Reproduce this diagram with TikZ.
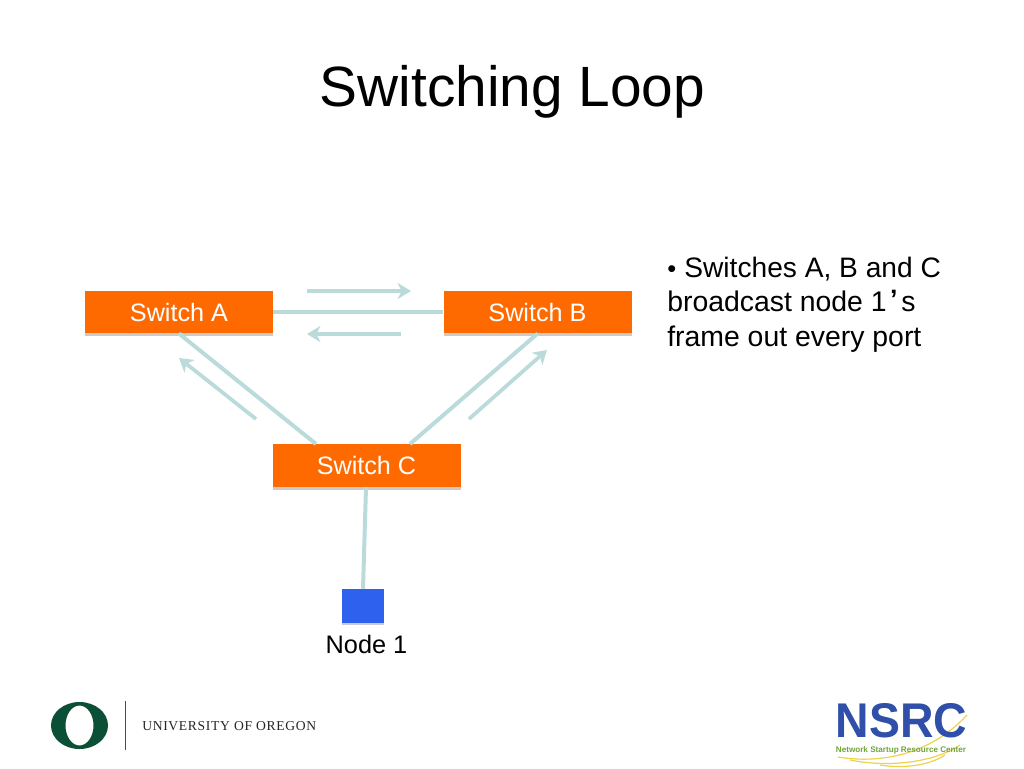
\documentclass[tikz,border=0pt]{standalone}
\usepackage{fontspec}
\setmainfont{Liberation Sans}
\newfontfamily\serifrm{Liberation Serif}
\usetikzlibrary{arrows.meta,shadows}
\definecolor{swor}{HTML}{FF6A00}
\definecolor{linkc}{HTML}{BBDBDB}
\definecolor{oregon}{HTML}{0B4F36}
\definecolor{nsrcb}{HTML}{2F4FA8}
\definecolor{nsrcg}{HTML}{6FA53A}
\definecolor{nsrcy}{HTML}{EBD350}
\definecolor{hostc}{HTML}{2E62EE}
\tikzset{
  x=0.75pt,y=-0.75pt,
  swbox/.style={fill=swor,draw=none,minimum width=141pt,minimum height=32pt,inner sep=0pt,text=white,font=\fontsize{18.9}{23}\selectfont,
    drop shadow={shadow xshift=0pt,shadow yshift=-2pt,fill=black!40,opacity=.5}},
  hostbox/.style={fill=hostc,draw=none,minimum width=31.5pt,minimum height=25.5pt,inner sep=0pt,
    drop shadow={shadow xshift=0pt,shadow yshift=-1.5pt,fill=black!40,opacity=.5}},
  link/.style={draw=linkc,line width=3pt},
  flow/.style={draw=linkc,line width=2.8pt,-{Stealth[length=10pt,width=12pt,inset=3pt]}},
  txt/.style={inner sep=0pt,font=\fontsize{21.3}{25.6}\selectfont},
  swoosh/.style={draw=nsrcy,line width=.9pt}
}
\begin{document}
\begin{tikzpicture}
\useasboundingbox (0,0) rectangle (1024,768);
\fill[white] (0,0) rectangle (1024,768);

\node[inner sep=0pt,anchor=base,font=\fontsize{42.6}{50}\selectfont] (title) at (512.5,106) {Switching Loop};

\coordinate (a1) at (307,291);
\coordinate (a2) at (411,291);
\coordinate (b1) at (401,334);
\coordinate (b2) at (307,334);
\coordinate (c1) at (256,419);
\coordinate (c2) at (179,358);
\coordinate (d1) at (469,419);
\coordinate (d2) at (547,350);
\coordinate (ct1) at (316,444);
\coordinate (ct2) at (410,444);
\coordinate (cb) at (366,487);

\draw[flow] (a1) -- (a2);
\draw[flow] (b1) -- (b2);
\draw[flow] (c1) -- (c2);
\draw[flow] (d1) -- (d2);

\node[swbox] (swa) at (179,312) {Switch A};
\node[swbox] (swb) at (537.5,312) {Switch B};
\node[swbox] (swc) at (366.5,465.5) {Switch C};
\node[hostbox] (host) at (363,606) {};
\node[inner sep=0pt,font=\fontsize{19}{23}\selectfont] (hostl) at (366.5,644) {Node 1};

\draw[link] (swa.east) -- (swb.west);
\draw[link] (swa.south) -- (ct1);
\draw[link] (swb.south) -- (ct2);
\draw[link] (cb) -- (host.north);

\node[txt,anchor=base west] (l1) at (667,277) {\fontsize{19}{19}\selectfont•\hspace{6.2pt}\fontsize{21.1}{25.6}\selectfont Switches A, B and C};
\node[txt,anchor=base west] (l2) at (667,311.5) {broadcast node 1\raisebox{.12em}{\fontsize{20}{20}\selectfont\hspace{2.5pt}\textbf{’}\hspace{3pt}}s};
\node[txt,anchor=base west] (l3) at (667,346) {frame out every port};

% University of Oregon logo
\fill[oregon,even odd rule] (79.5,725.5) ellipse [x radius=28.5,y radius=23.5] (79.5,725.5) ellipse [x radius=14,y radius=20];
\draw[black!70,line width=.6pt] (125.5,701) -- (125.5,750);
\node[inner sep=0pt,anchor=base west,text=black!85,font=\fontsize{10.2}{11}\serifrm] (uo) at (142,730) {\addfontfeature{LetterSpace=5}UNIVERSITY OF OREGON};

% NSRC logo
\draw[swoosh] (838,757) .. controls (880,764) and (930,755) .. (967,715);
\draw[swoosh] (850,760) .. controls (890,768) and (935,762) .. (960,745);
\draw[swoosh] (880,765) .. controls (905,769) and (930,765) .. (945,755);
\node[inner sep=0pt,text=nsrcb,yscale=1.05,font=\fontsize{34.8}{40}\selectfont\bfseries] (nsrc) at (901.5,720.5) {NSRC};
\node[inner sep=0pt,text=nsrcg,anchor=base,font=\fontsize{6.1}{8}\selectfont\bfseries] (nsrct) at (901,752) {Network Startup Resource Center};
\end{tikzpicture}
\end{document}
